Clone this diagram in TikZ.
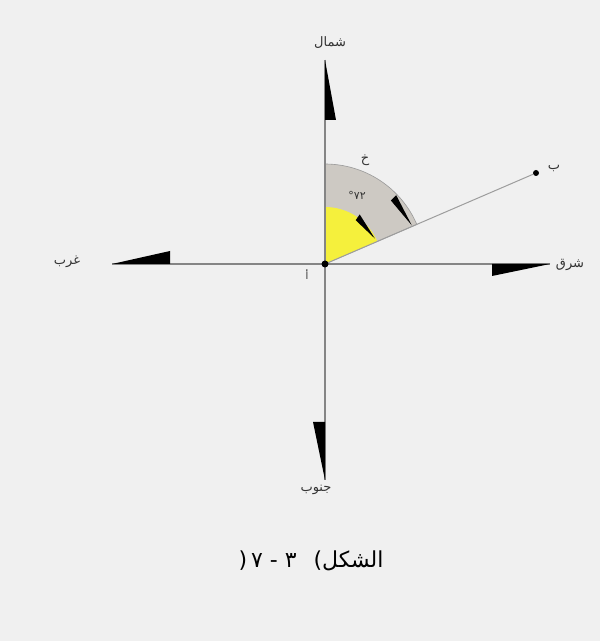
\documentclass[tikz,border=0pt]{standalone}
\usepackage{fontspec}
\usetikzlibrary{calc}
\newfontfamily\arabicfont[Script=Arabic]{DejaVu Sans}
\TeXXeTstate=1
\definecolor{bg}{HTML}{F0F0F0}
\definecolor{sectorgray}{HTML}{CDC9C3}
\definecolor{sectoryellow}{HTML}{F5F03C}
\definecolor{axisgray}{HTML}{858585}
\tikzset{
  axisline/.style={draw=axisgray, line width=1.2pt},
  rayline/.style={draw=axisgray!80, line width=1pt},
  pointer/.style={fill=black},
  lbl/.style={font=\fontsize{13}{15}\selectfont\arabicfont, text=black!80, inner sep=0pt},
  caption/.style={font=\fontsize{22}{26}\selectfont\arabicfont, text=black, inner sep=0pt},
  dot/.style={circle, fill=black, inner sep=0pt, minimum size=7pt}
}
\begin{document}
\begin{tikzpicture}[x=1pt,y=1pt]
\fill[bg] (0,0) rectangle (600,641);
\useasboundingbox (0,0) rectangle (600,641);
% nodes / coordinates
\coordinate (A) at (325,377);
\coordinate (N) at (325,581);
\coordinate (S) at (325,161);
\coordinate (W) at (112,377);
\coordinate (E) at (550,377);
% sector
\fill[sectorgray, draw=gray!80, line width=0.6pt] (A) -- ++(90:100) arc[start angle=90, end angle=23.3, radius=100] -- cycle;
\fill[sectoryellow] (A) -- ++(90:57) arc[start angle=90, end angle=23.3, radius=57] -- cycle;
% axes
\draw[axisline] (N) -- (S);
\draw[axisline] (W) -- (E);
% ray to B
\node[dot, minimum size=6pt] (B) at (536,468) {};
\draw[rayline] (A) -- (B);
% axis pointers
\fill[pointer] (N) -- (325,521) -- (336,521) -- cycle;
\fill[pointer] (S) -- (325,219) -- (313,219) -- cycle;
\fill[pointer] (W) -- (170,377) -- (170,390) -- cycle;
\fill[pointer] (E) -- (492,377) -- (492,365) -- cycle;
% arc pointers
\fill[pointer] ($(A)+(44:91.5)$) -- ($(A)+(44:99)$) -- ($(A)+(24:95)$) -- cycle;
\fill[pointer] ($(A)+(55:53.5)$) -- ($(A)+(55:60.5)$) -- ($(A)+(27:56)$) -- cycle;
\node[dot] (Ad) at (A) {};
% labels
\node[lbl] (northlbl) at (330,598) {\beginR شمال\endR};
\node[lbl] (southlbl) at (316,151) {\beginR جنوب\endR};
\node[lbl] (westlbl) at (67,379) {\beginR غرب\endR};
\node[lbl] (eastlbl) at (570,376) {\beginR شرق\endR};
\node[lbl] (blbl) at (554,473) {\beginR ب\endR};
\node[lbl] (khlbl) at (365,481) {\beginR خ\endR};
\node[lbl, font=\fontsize{11}{13}\selectfont\arabicfont] (anglbl) at (357,446) {\hbox{°}\hbox{٧٢}};
\node[lbl, font=\fontsize{10}{12}\selectfont\arabicfont] (alabel) at (307,366) {\beginR أ\endR};
\node[caption] (cap) at (311,80) {\beginR\hbox{الشكل}\hbox{)}\hspace{17pt}\hbox{٣}\hspace{7pt}\hbox{-}\hspace{7pt}\hbox{٧}\hspace{4pt}\hbox{(}\endR};
\end{tikzpicture}
\end{document}
